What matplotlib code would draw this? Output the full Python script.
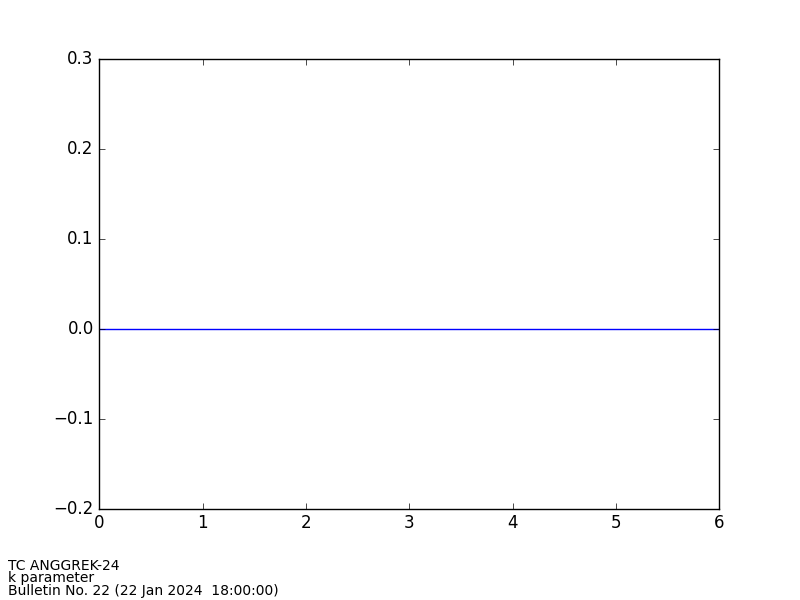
import matplotlib
matplotlib.use("Agg")
import matplotlib.pyplot as plt

# k parameter over forecast time
hours = [0, 1, 2, 3, 4, 5, 6]
k_values = [0.0, 0.0, 0.0, 0.0, 0.0, 0.0, 0.0]

plt.style.use("classic")
fig = plt.figure(figsize=(8, 6), dpi=100)
fig.patch.set_facecolor("white")
ax = fig.add_subplot(111)
fig.subplots_adjust(left=0.124, right=0.899, top=0.9015, bottom=0.152)

ax.plot(hours, k_values, color="b", linewidth=1)
ax.set_xlim(0, 6)
ax.set_ylim(-0.2, 0.3)
ax.set_yticks([-0.2, -0.1, 0.0, 0.1, 0.2, 0.3])
for lbl in ax.get_yticklabels():
    lbl.set_verticalalignment("center")

fig.text(0.01, 0.004, "TC ANGGREK-24\nk parameter\nBulletin No. 22 (22 Jan 2024  18:00:00)",
         fontsize=10, ha="left", va="bottom", linespacing=0.85)

fig.savefig("out.png", dpi=100, facecolor="white")
